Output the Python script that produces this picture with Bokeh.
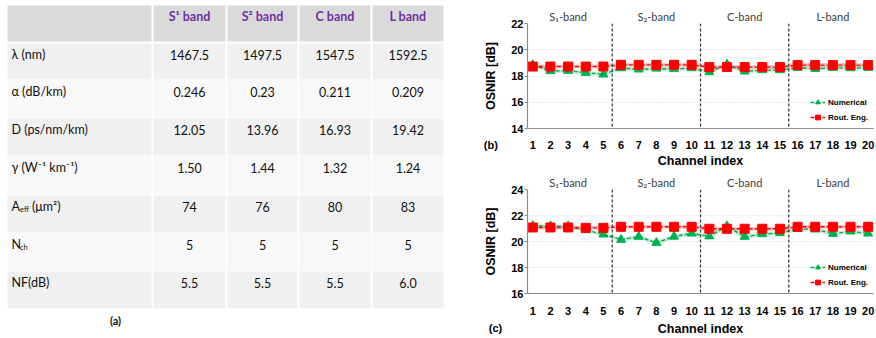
from bokeh.plotting import figure
from bokeh.models import Range1d, Span, Label, FixedTicker, Legend, LegendItem, LinearAxis
from bokeh.layouts import row, column
from bokeh.embed import file_html
from bokeh.resources import INLINE
from bokeh.core.properties import value

# ---------------- table data ----------------
bands = ["S¹ band", "S² band", "C band", "L band"]
param_main = ["λ (nm)", "α (dB/km)", "D (ps/nm/km)", "γ (W⁻¹ km⁻¹)", "A", "N", "NF(dB)"]
param_sub = ["", "", "", "", "eff", "ch", ""]
param_tail = ["", "", "", "", "(μm²)", "", ""]
wavelength = ["1467.5", "1497.5", "1547.5", "1592.5"]
attenuation = ["0.246", "0.23", "0.211", "0.209"]
dispersion = ["12.05", "13.96", "16.93", "19.42"]
nonlinearity = ["1.50", "1.44", "1.32", "1.24"]
eff_area = ["74", "76", "80", "83"]
n_channels = ["5", "5", "5", "5"]
noise_fig = ["5.5", "5.5", "5.5", "6.0"]
table_rows = [wavelength, attenuation, dispersion, nonlinearity, eff_area, n_channels, noise_fig]

# ---------------- plot data ----------------
channels = list(range(1, 21))
band_names = ["S₁-band", "S₂-band", "C-band", "L-band"]
band_centers = [3, 8, 13, 18]
band_edges = [5.5, 10.5, 15.5]

b_numerical = [18.85, 18.38, 18.4, 18.25, 18.12, 18.6, 18.5, 18.57, 18.53, 18.6,
               18.3, 18.88, 18.35, 18.45, 18.45, 18.63, 18.55, 18.63, 18.6, 18.63]
b_routing = [18.72, 18.72, 18.72, 18.72, 18.72, 18.85, 18.85, 18.85, 18.85, 18.85,
             18.68, 18.68, 18.68, 18.68, 18.68, 18.83, 18.83, 18.83, 18.83, 18.83]
b_yticks = [14, 16, 18, 20, 22]

c_numerical = [21.2, 21.18, 21.18, 20.88, 20.55, 20.14, 20.37, 19.9, 20.38, 20.62,
               20.4, 21.18, 20.37, 20.57, 20.65, 20.98, 20.93, 20.6, 20.78, 20.62]
c_routing = [21.08, 21.08, 21.08, 21.05, 21.05, 21.13, 21.13, 21.13, 21.13, 21.13,
             20.98, 20.98, 20.98, 20.98, 20.98, 21.13, 21.13, 21.13, 21.13, 21.13]
c_yticks = [16, 18, 20, 22, 24]

GREEN = "#00b050"
RED = "#ff0000"
PLOT_FONT = "Liberation Sans"
TABLE_FONT = "Lato"

# ---------------- table figure ----------------
tf = figure(width=462, height=338, x_range=Range1d(0, 462), y_range=Range1d(338, 0),
            output_backend="svg", toolbar_location=None, min_border=0,
            x_axis_type=None, y_axis_type=None)
tf.grid.visible = False
tf.outline_line_color = None

col_edges = [7, 152, 226, 298, 371, 444]
col_centers = [(col_edges[i] + col_edges[i + 1]) / 2 for i in range(1, 5)]
row_tops = [43, 80, 118, 156, 195, 233, 271]
row_bottoms = [79, 117, 155, 194, 232, 270, 308]
row_colors = ["#f0f0f0", "#f8f8f8", "#f0f0f0", "#f8f8f8", "#f0f0f0", "#f8f8f8", "#f0f0f0"]

hl, hr = [], []
for i in range(5):
    hl.append(col_edges[i] + (0 if i == 0 else 1))
    hr.append(col_edges[i + 1] - 1)
tf.quad(left=hl, right=hr, top=[5] * 5, bottom=[41] * 5, fill_color="#dadada", line_color=None)

cl, cr, ct, cb, cc = [], [], [], [], []
for r in range(7):
    for i in range(5):
        cl.append(col_edges[i] + (0 if i == 0 else 1))
        cr.append(col_edges[i + 1] - 1)
        ct.append(row_tops[r])
        cb.append(row_bottoms[r])
        cc.append(row_colors[r])
tf.quad(left=cl, right=cr, top=ct, bottom=cb, fill_color=cc, line_color=None)

tf.text(x=col_centers, y=[16] * 4, text=bands, text_font=value(TABLE_FONT),
        text_font_size="12.5px", text_font_style="bold", text_color="#7030a0",
        text_align="center", text_baseline="middle")

tx, ty, tt = [], [], []
for r, vals in enumerate(table_rows):
    for i, v in enumerate(vals):
        tx.append(col_centers[i])
        ty.append(row_tops[r] + 11)
        tt.append(v)
tf.text(x=tx, y=ty, text=tt, text_font=value(TABLE_FONT), text_font_size="12.5px",
        text_color="#111111", text_align="center", text_baseline="middle")

tf.text(x=[11] * 7, y=[t + 11 for t in row_tops], text=param_main, text_font=value(TABLE_FONT),
        text_font_size="12.5px", text_color="#111111", text_align="left", text_baseline="middle")
sub_rows = [r for r in range(7) if param_sub[r]]
tf.text(x=[19.5] * len(sub_rows), y=[row_tops[r] + 14 for r in sub_rows],
        text=[param_sub[r] for r in sub_rows], text_font=value(TABLE_FONT),
        text_font_size="7.5px", text_color="#111111", text_align="left", text_baseline="middle")
tail_rows = [r for r in range(7) if param_tail[r]]
tf.text(x=[31.5] * len(tail_rows), y=[row_tops[r] + 11 for r in tail_rows],
        text=[param_tail[r] for r in tail_rows], text_font=value(TABLE_FONT),
        text_font_size="12.5px", text_color="#111111", text_align="left", text_baseline="middle")
tf.text(x=[115], y=[320], text=["(a)"], text_font=value(TABLE_FONT), text_font_size="11px",
        text_font_style="bold", text_color="#111111", text_align="center", text_baseline="middle")


# ---------------- OSNIR plots ----------------
def make_plot(height, top, bottom, ymin, ymax, yticks, numerical, routing,
              tick_standoff, label_standoff, tag, tag_x, tag_y):
    p = figure(width=414, height=height, x_range=Range1d(0.7, 20.3), y_range=Range1d(ymin, ymax),
               output_backend="svg", toolbar_location=None,
               min_border_left=65, min_border_right=3, min_border_top=top, min_border_bottom=bottom)
    p.outline_line_color = None
    p.xgrid.visible = False
    p.ygrid.grid_line_color = "#d0d0d0"
    p.ygrid.grid_line_dash = "1 2"
    p.xaxis.ticker = FixedTicker(ticks=channels)
    p.yaxis.ticker = FixedTicker(ticks=yticks)
    for ax in (p.xaxis[0], p.yaxis[0]):
        ax.axis_line_color = "#8c8c8c"
        ax.axis_line_width = 1.2
        ax.minor_tick_line_color = None
        ax.major_label_text_font = PLOT_FONT
        ax.major_label_text_font_style = "bold"
        ax.major_label_text_font_size = "11px"
        ax.major_label_text_color = "#000000"
        ax.axis_label_text_font = PLOT_FONT
        ax.axis_label_text_font_style = "bold"
        ax.axis_label_text_font_size = "12.5px"
        ax.axis_label_text_color = "#000000"
    p.xaxis.major_tick_line_color = None
    p.xaxis.major_label_standoff = tick_standoff
    p.xaxis.axis_label = "Channel index"
    p.xaxis.axis_label_standoff = label_standoff
    p.yaxis.major_tick_line_color = "#8c8c8c"
    p.yaxis.major_tick_out = 3
    p.yaxis.major_tick_in = 0
    p.yaxis.major_label_standoff = 1
    p.yaxis.axis_label = "OSNIR [dB]"
    p.yaxis.axis_label_standoff = 10

    band_axis = LinearAxis(ticker=FixedTicker(ticks=band_centers),
                           major_label_overrides={c: n for c, n in zip(band_centers, band_names)},
                           axis_line_color=None, major_tick_line_color=None,
                           minor_tick_line_color=None, major_label_standoff=-5,
                           major_label_text_font=TABLE_FONT, major_label_text_font_size="11px",
                           major_label_text_color="#404040")
    p.add_layout(band_axis, "above")

    for e in band_edges:
        p.add_layout(Span(location=e, dimension="height", line_color="#3a3a3a",
                          line_dash="3 2", line_width=1.3))

    p.line(channels, numerical, line_color=GREEN, line_width=4, line_alpha=0.2)
    gl = p.line(channels, numerical, line_color=GREEN, line_width=1.4, line_dash="4 2")
    gm = p.scatter(channels, numerical, marker="triangle", size=9, fill_color=GREEN, line_color=GREEN)
    p.line(channels, routing, line_color=RED, line_width=4, line_alpha=0.2)
    rl = p.line(channels, routing, line_color=RED, line_width=1.4, line_dash="4 2")
    rm = p.scatter(channels, routing, marker="square", size=9, fill_color=RED, line_color=RED)

    legend = Legend(items=[LegendItem(label="Numerical", renderers=[gl, gm]),
                           LegendItem(label="Rout. Eng.", renderers=[rl, rm])],
                    location="bottom_right", margin=5, padding=0, spacing=3,
                    glyph_width=15, glyph_height=12, label_height=12, label_standoff=3,
                    background_fill_alpha=0, border_line_color=None,
                    label_text_font=PLOT_FONT, label_text_font_style="bold",
                    label_text_font_size="8px", label_text_color="#000000")
    p.add_layout(legend)
    p.add_layout(Label(x=tag_x, y=tag_y, text=tag, text_align="center", text_baseline="middle",
                       text_font=PLOT_FONT, text_font_style="bold", text_font_size="11px",
                       text_color="#000000"), "left")
    return p


pb = make_plot(170, 23, 41, 14, 22, b_yticks, b_numerical, b_routing, 6, 2, "(b)", -1.38, 12.74)
pc = make_plot(168, 19, 44, 16, 24, c_yticks, c_numerical, c_routing, 7, 4, "(c)", -1.11, 13.33)

layout = row(tf, column(pb, pc))
open("out.html", "w").write(file_html(layout, INLINE))
